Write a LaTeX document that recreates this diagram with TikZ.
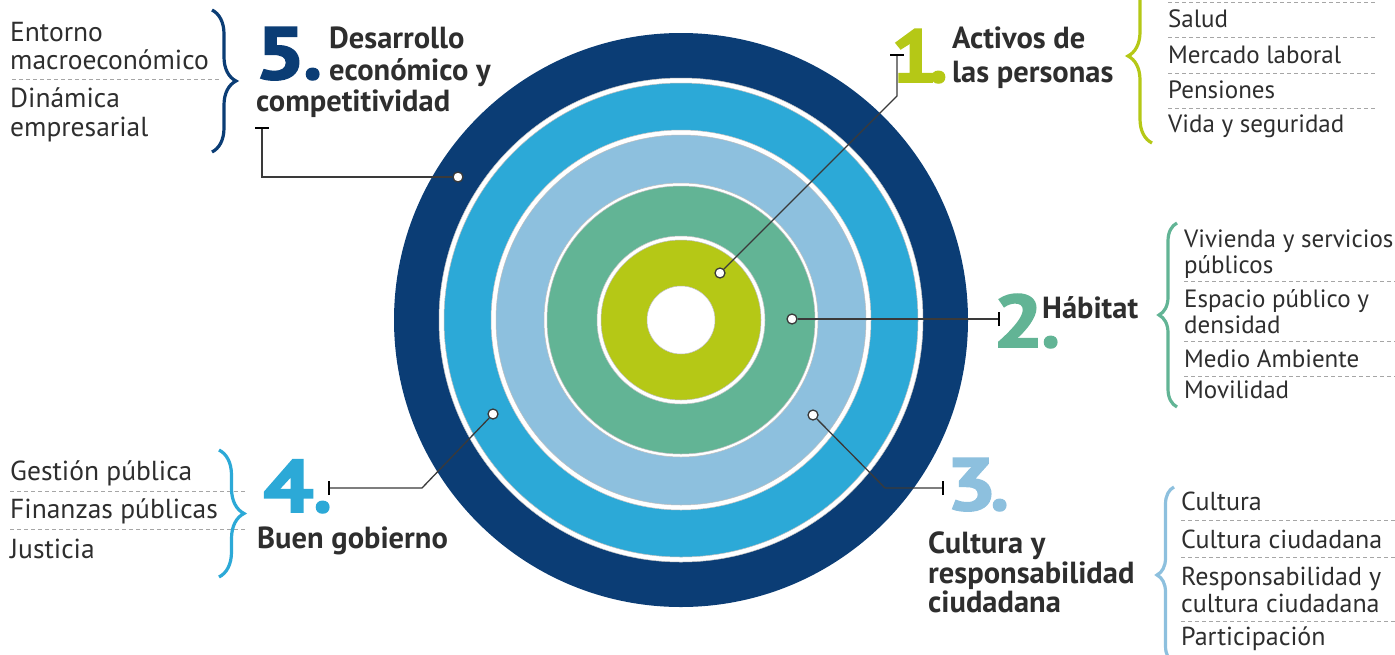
\documentclass[tikz,border=0pt]{standalone}
\usepackage{fontspec}
\setmainfont{PT Sans}
\newfontfamily\numfont[FakeBold=2.5]{PT Sans Bold}
\usetikzlibrary{decorations.pathreplacing}
\definecolor{dblue}{HTML}{0B3D75}
\definecolor{lblue}{HTML}{2CA9D7}
\definecolor{pblue}{HTML}{8DC0DE}
\definecolor{rgreen}{HTML}{62B495}
\definecolor{ygreen}{HTML}{B5C816}
\definecolor{txt}{HTML}{2E2E2E}
\definecolor{conn}{HTML}{3A3A3A}
\begin{document}
\begin{tikzpicture}[x=1pt,y=-1pt,
  item/.style={inner sep=0pt,anchor=base west,text=txt,font=\fontsize{25}{28}\selectfont},
  itemL/.style={item,font=\fontsize{27.5}{30}\selectfont},
  itemB/.style={item,font=\fontsize{26}{28}\selectfont},
  head/.style={inner sep=0pt,anchor=base west,text=txt,font=\fontsize{30.5}{32}\selectfont\bfseries},
  bignum/.style={inner sep=0pt,anchor=base west,font=\fontsize{74}{74}\numfont},
  sep/.style={draw=black!35,line width=0.9pt,dash pattern=on 4pt off 3pt},
  ring/.style={draw=black!25,line width=0.5pt},
  dotc/.style={circle,fill=white,draw=conn,line width=1.3pt,minimum size=10pt,inner sep=0pt},
  link/.style={draw=conn,line width=1.3pt},
  tickbar/.style={draw=black,line width=2.2pt},
  bracer/.style={decorate,decoration={brace,amplitude=#1},line width=3.2pt},
]
\useasboundingbox (0,0) rectangle (1395,654);
\fill[white] (0,0) rectangle (1395,654);

% target rings
\coordinate (c) at (681,320);
\fill[dblue] (c) circle[radius=287pt];
\filldraw[white,ring] (c) circle[radius=242pt];
\filldraw[lblue,ring] (c) circle[radius=237pt];
\filldraw[white,ring] (c) circle[radius=190pt];
\filldraw[pblue,ring] (c) circle[radius=185pt];
\filldraw[white,ring] (c) circle[radius=137pt];
\filldraw[rgreen,ring] (c) circle[radius=134pt];
\filldraw[white,ring] (c) circle[radius=84pt];
\filldraw[ygreen,ring] (c) circle[radius=80pt];
\filldraw[white,ring] (c) circle[radius=34pt];

% markers on rings
\node[dotc] (d5) at (458,177) {};
\node[dotc] (d1) at (720,273) {};
\node[dotc] (d2) at (792,319) {};
\node[dotc] (d3) at (813,415) {};
\node[dotc] (d4) at (493,414) {};

% connector end points
\coordinate (t5) at (262,128);
\coordinate (k1) at (897,96);
\coordinate (t1) at (897,55);
\coordinate (t2) at (999,319);
\coordinate (k3) at (885,488);
\coordinate (t3) at (943,488);
\coordinate (k4) at (422,488);
\coordinate (t4) at (329,488);

\draw[link] (d5.west) -- (t5 |- d5) -- (t5);
\draw[tickbar] ([xshift=-7pt]t5) -- ([xshift=7pt]t5);
\draw[link] (d1) -- (k1) -- (t1);
\draw[tickbar] ([xshift=-7pt]t1) -- ([xshift=7pt]t1);
\draw[link] (d2.east) -- (t2);
\draw[tickbar] ([yshift=-7pt]t2) -- ([yshift=7pt]t2);
\draw[link] (d3) -- (k3) -- (t3);
\draw[tickbar] ([yshift=-7pt]t3) -- ([yshift=7pt]t3);
\draw[link] (d4) -- (k4) -- (t4);
\draw[tickbar] ([yshift=-7pt]t4) -- ([yshift=7pt]t4);

% ---- 5 ----
\node[bignum,text=dblue] (n5) at (255,79) {\scalebox{1.2}[1]{5}\kern-2pt.};
\node[head] (h5a) at (329,48) {Desarrollo};
\node[head] (h5b) at (329,80) {económico y};
\node[head] (h5c) at (256,111) {competitividad};
\node[itemL] (e1) at (10,41) {Entorno};
\node[itemL] (e2) at (10,69) {macroeconómico};
\draw[sep] (12,79) -- (220,79);
\node[itemL] (e3) at (10,107) {Dinámica};
\node[itemL] (e4) at (10,136) {empresarial};
\draw[bracer=24pt,dblue] (212,10) -- (212,152);

% ---- 1 ----
\node[bignum,text=ygreen] (n1) at (891,82) {\scalebox{1.1}[1]{1}\kern-8pt.};
\node[head] (h1a) at (952,48) {Activos de};
\node[head] (h1b) at (952,82) {las personas};
\draw[bracer=24pt,ygreen] (1152,143) -- (1152,-31);
\draw[sep] (1168,2) -- (1377,2);
\node[item] (a1) at (1168,27) {Salud};
\draw[sep] (1168,37) -- (1377,37);
\node[item] (a2) at (1168,63) {Mercado laboral};
\draw[sep] (1168,73) -- (1377,73);
\node[item] (a3) at (1168,98) {Pensiones};
\draw[sep] (1168,108) -- (1377,108);
\node[item] (a4) at (1168,132) {Vida y seguridad};

% ---- 2 ----
\node[bignum,text=rgreen] (n2) at (993,347) {\scalebox{1.2}[1]{2}\kern-2pt.};
\node[head] (h2) at (1042,318) {Hábitat};
\draw[bracer=18pt,rgreen] (1177,407) -- (1177,223);
\node[item] (b1) at (1184,247) {Vivienda y servicios};
\node[item] (b2) at (1184,273) {públicos};
\draw[sep] (1184,281) -- (1395,281);
\node[item] (b3) at (1184,307) {Espacio público y};
\node[item] (b4) at (1184,333) {densidad};
\draw[sep] (1184,341) -- (1395,341);
\node[item] (b5) at (1184,367) {Medio Ambiente};
\draw[sep] (1184,376) -- (1395,376);
\node[item] (b6) at (1184,398) {Movilidad};

% ---- 3 ----
\node[bignum,text=pblue] (n3) at (946,510) {\scalebox{1.2}[1]{3}\kern-6pt.};
\node[head] (h3a) at (928,553) {Cultura y};
\node[head] (h3b) at (928,583) {responsabilidad};
\node[head] (h3c) at (928,612) {ciudadana};
\draw[bracer=17pt,pblue] (1174,663) -- (1174,487);
\node[itemB] (c1) at (1181,510) {Cultura};
\draw[sep] (1181,520) -- (1395,520);
\node[itemB] (c2) at (1181,548) {Cultura ciudadana};
\draw[sep] (1181,557) -- (1395,557);
\node[itemB] (c3) at (1181,585) {Responsabilidad y};
\node[itemB] (c4) at (1181,612) {cultura ciudadana};
\draw[sep] (1181,621) -- (1395,621);
\node[itemB] (c5) at (1181,645) {Participación};

% ---- 4 ----
\node[bignum,text=lblue] (n4) at (263,512) {\scalebox{1.2}[1]{4}.};
\node[head] (h4) at (257,548) {Buen gobierno};
\node[itemL] (g1) at (10,480) {Gestión pública};
\draw[sep] (10,491) -- (245,491);
\node[itemL] (g2) at (10,518) {Finanzas públicas};
\draw[sep] (10,529) -- (245,529);
\node[itemL] (g3) at (10,558) {Justicia};
\draw[bracer=25pt,lblue] (219,450) -- (219,577);
\end{tikzpicture}
\end{document}
